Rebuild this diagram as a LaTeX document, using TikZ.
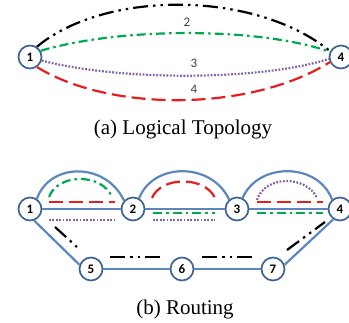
\documentclass[tikz,border=0pt]{standalone}
\usepackage{fontspec}
\setmainfont{Liberation Serif}
\newfontfamily\calibri{Carlito}
\usetikzlibrary{positioning}
\definecolor{linkblue}{RGB}{91,135,190}
\definecolor{rimblue}{RGB}{62,100,150}
\definecolor{cgreen}{RGB}{0,168,80}
\definecolor{cpurple}{RGB}{128,98,165}
\definecolor{cred}{RGB}{232,30,30}

\begin{document}
\begin{tikzpicture}[x=1pt, y=1pt, on grid,
    router/.style={circle, draw=rimblue, line width=1.7pt, fill=white,
      minimum size=23pt, inner sep=0pt,
      font=\calibri\bfseries\fontsize{13}{13}\selectfont},
    link/.style={draw=linkblue, line width=2.2pt},
    lpone/.style={black, line width=2.2pt,
      dash pattern=on 15pt off 5pt on 2.5pt off 5pt on 2.5pt off 5pt},
    lptwo/.style={cgreen, line width=2.2pt, dash pattern=on 9pt off 4pt on 2.5pt off 4pt},
    lpthree/.style={cpurple, line width=2.2pt, dash pattern=on 1.8pt off 1.6pt},
    lpfour/.style={cred, line width=2.2pt, dash pattern=on 14pt off 6pt},
    pathno/.style={text=black!75, font=\calibri\fontsize{13}{13}\selectfont},
    caption/.style={anchor=base, font=\fontsize{21}{24}\selectfont}]
  \useasboundingbox (0,0) rectangle (349,323);

  % (a) logical topology
  \node[router] (a1) at (30,266) {1};
  \node[router, right=311pt of a1] (a4) {4};

  \draw[lpone] (a1.56) .. controls (105,333) and (255,333) .. (a4.152);
  \draw[lptwo] (a1.30) .. controls (120,296) and (260,296) .. (a4.155);
  \draw[lpthree] (a1.343) .. controls (120,242) and (260,242) .. (a4.189);
  \draw[lpfour] (a1.305) .. controls (110,211) and (250,211) .. (a4.205);

  \node[pathno] (l2) at (187,301) {2};
  \node[pathno] (l3) at (194,260) {3};
  \node[pathno] (l4) at (194,234) {4};

  \node[caption] (capa) at (183,188) {(a) Logical Topology};

  % (b) routing
  \node[router] (b1) at (30,114) {1};
  \node[router, right=103pt of b1] (b2) {2};
  \node[router, right=104pt of b2] (b3) {3};
  \node[router, right=103pt of b3] (b4) {4};
  \node[router, below right=60pt and 61pt of b1] (b5) {5};
  \node[router, right=91pt of b5] (b6) {6};
  \node[router, right=91pt of b6] (b7) {7};

  \draw[link] (b1) -- (b2) -- (b3) -- (b4);
  \draw[link] (b1.290) -- (b5.160);
  \draw[link] (b5) -- (b6) -- (b7);
  \draw[link] (b7.20) -- (b4.237);
  \draw[link] (b1.56) .. controls (50,161) and (106,161) .. (b2.137);
  \draw[link] (b2.60) .. controls (153,161) and (212,161) .. (b3.130);
  \draw[link] (b3.63) .. controls (258,161) and (318,161) .. (b4.130);

  \draw[lptwo] (49,126) .. controls (58,150) and (102,150) .. (112,126);
  \draw[lpfour] (49,121) -- (115,121);
  \draw[lpthree] (49,103) -- (115,103);
  \draw[lpfour] (152,125) .. controls (161,147) and (205,147) .. (215,125);
  \draw[lptwo] (153,110) -- (215,110);
  \draw[lpthree] (153,103) -- (215,103);
  \draw[lpthree] (257,123) .. controls (265,148) and (306,148) .. (317,125);
  \draw[lpfour] (257,121) -- (323,121);
  \draw[lptwo] (257,110) -- (323,110);

  \draw[lpone] (55,96) -- (77,76);
  \draw[lpone] (110,66) -- (163,66);
  \draw[lpone] (202,66) -- (255,66);
  \draw[lpone] (287,73) -- (325,101);

  \node[caption] (capb) at (185,8) {(b) Routing};
\end{tikzpicture}
\end{document}
